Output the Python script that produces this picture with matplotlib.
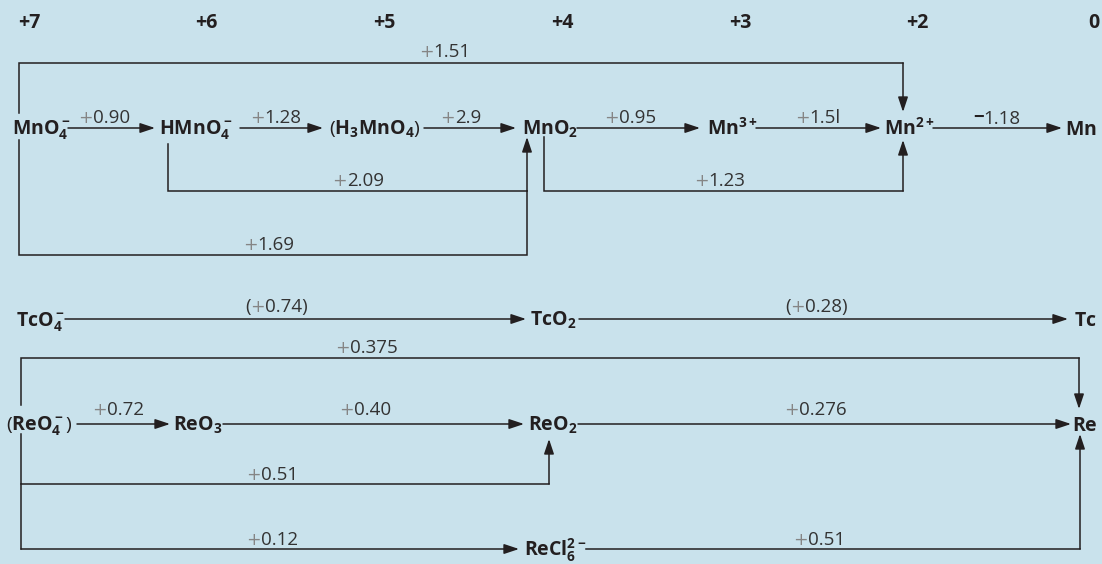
import matplotlib
matplotlib.use('Agg')
import matplotlib.pyplot as plt

plt.rcParams['font.family'] = ['Open Sans', 'DejaVu Sans']
plt.rcParams['mathtext.fontset'] = 'custom'
plt.rcParams['mathtext.rm'] = 'Open Sans:bold'
plt.rcParams['mathtext.it'] = 'Open Sans:bold'
plt.rcParams['mathtext.bf'] = 'Open Sans:bold'
plt.rcParams['mathtext.default'] = 'rm'

BG = '#c9e2ec'
INK = '#231f20'
GREY = '#333333'
PLUS = '#858585'

# oxidation states along the top
ox_states = ['+7', '+6', '+5', '+4', '+3', '+2', '0']

# manganese chain and its potentials (V)
mn_species = [r'$MnO_4^-$', r'$HMnO_4^-$', r'($H_3MnO_4$)', r'$MnO_2$',
              r'$Mn^{3+}$', r'$Mn^{2+}$', r'$Mn$']
mn_steps = ['+0.90', '+1.28', '+2.9', '+0.95', '+1.5l', '\u22121.18']
mn_links = ['+1.51', '+2.09', '+1.69', '+1.23']

# technetium
tc_species = [r'$TcO_4^-$', r'$TcO_2$', r'$Tc$']
tc_steps = ['(+0.74)', '(+0.28)']

# rhenium
re_species = [r'($ReO_4^-$)', r'$ReO_3$', r'$ReO_2$', r'$Re$', r'$ReCl_6^{2-}$']
re_steps = ['+0.72', '+0.40', '+0.276']
re_links = ['+0.375', '+0.51', '+0.12', '+0.51']

# ---- layout (pixels, y down) ----
ox_x = [29, 206, 384, 562, 740, 917, 1094]

MN_Y, TC_Y, RE_Y, RECL_Y = 128, 319, 424, 549

mn_pos = [12, 159, 329, 522, 707, 884, 1065]
mn_arrows = [(68, 155), (240, 323), (424, 516), (577, 700), (756, 881), (933, 1062)]
mn_lab = [78, 250, 440, 604, 795, 973]
mn_paths = [
    ([(19, 113), (19, 63), (903, 63), (903, 112)], True, (419, 57)),
    ([(168, 144), (168, 191), (527, 191), (527, 137)], True, (332, 186)),
    ([(19, 140), (19, 255), (527, 255), (527, 191)], False, (243, 250)),
    ([(544, 137), (544, 191), (903, 191), (903, 140)], True, (694, 186)),
]

tc_pos = [16, 530, 1074]
tc_arrows = [(65, 526), (579, 1068)]
tc_lab = [245, 785]

re_pos = [(6, RE_Y), (173, RE_Y), (528, RE_Y), (1072, RE_Y), (524, RECL_Y)]
re_arrows = [(77, 170), (223, 524), (578, 1071)]
re_lab = [92, 339, 784]
re_paths = [
    ([(21, 405), (21, 358), (1079, 358), (1079, 409)], True, (335, 353)),
    ([(21, 434), (21, 484), (549, 484), (549, 439)], True, (246, 480)),
    ([(21, 484), (21, 549), (519, 549)], True, (246, 545)),
    ([(586, 549), (1080, 549), (1080, 434)], True, (793, 545)),
]

fig = plt.figure(figsize=(11.02, 5.64), dpi=100)
fig.patch.set_facecolor(BG)
ax = fig.add_axes([0, 0, 1, 1])
ax.set_xlim(0, 1102)
ax.set_ylim(564, 0)
ax.axis('off')
ax.set_facecolor(BG)

HEAD = dict(arrowstyle='-|>,head_length=0.75,head_width=0.25', mutation_scale=12,
            color=INK, lw=1.1, shrinkA=0, shrinkB=0)


def path(points, head=True):
    xs = [p[0] for p in points]
    ys = [p[1] for p in points]
    if head:
        ax.plot(xs[:-1], ys[:-1], color=INK, lw=1.1, solid_joinstyle='miter',
                solid_capstyle='projecting')
        ax.annotate('', xy=points[-1], xytext=points[-2], arrowprops=HEAD)
    else:
        ax.plot(xs, ys, color=INK, lw=1.1, solid_joinstyle='miter',
                solid_capstyle='projecting')


def species(x, y, s):
    ax.text(x, y + 7, s, ha='left', va='baseline', fontsize=14, color=INK)


def potential(x, y, s):
    # the plus sign is printed lighter (and thinner) than the digits
    if '+' in s:
        i = s.index('+')
        parts = [(s[:i], GREY, 13.5, 'Open Sans', 'normal'),
                 ('+', PLUS, 12.5, 'DejaVu Sans', 'normal'),
                 (s[i + 1:], GREY, 13.5, 'Open Sans', 'normal')]
    else:
        parts = [(s[0], INK, 13.5, 'Open Sans', 'bold'),
                 (s[1:], GREY, 13.5, 'Open Sans', 'normal')]
    prev = None
    for txt, col, fs, fam, wt in parts:
        if not txt:
            continue
        if prev is None:
            prev = ax.text(x, y, txt, color=col, fontsize=fs, family=fam,
                           fontweight=wt, ha='left', va='baseline')
        else:
            prev = ax.annotate(txt, xy=(1, 0), xycoords=prev, color=col, family=fam,
                               fontweight=wt, fontsize=fs, ha='left', va='bottom')


for lab, x in zip(ox_states, ox_x):
    ax.text(x, 28, lab, ha='center', va='baseline', fontsize=14,
            fontweight='bold', color=INK)

# Mn
for s, x in zip(mn_species, mn_pos):
    species(x, MN_Y, s)
for (x0, x1), s, lx in zip(mn_arrows, mn_steps, mn_lab):
    path([(x0, MN_Y), (x1, MN_Y)])
    potential(lx, MN_Y - 5, s)
for (pts, head, (lx, ly)), s in zip(mn_paths, mn_links):
    path(pts, head)
    potential(lx, ly, s)

# Tc
for s, x in zip(tc_species, tc_pos):
    species(x, TC_Y, s)
for (x0, x1), s, lx in zip(tc_arrows, tc_steps, tc_lab):
    path([(x0, TC_Y), (x1, TC_Y)])
    potential(lx, TC_Y - 7, s)

# Re
for s, (x, y) in zip(re_species, re_pos):
    species(x, y, s)
for (x0, x1), s, lx in zip(re_arrows, re_steps, re_lab):
    path([(x0, RE_Y), (x1, RE_Y)])
    potential(lx, RE_Y - 9, s)
for (pts, head, (lx, ly)), s in zip(re_paths, re_links):
    path(pts, head)
    potential(lx, ly, s)

fig.savefig('out.png', dpi=100, facecolor=BG)
